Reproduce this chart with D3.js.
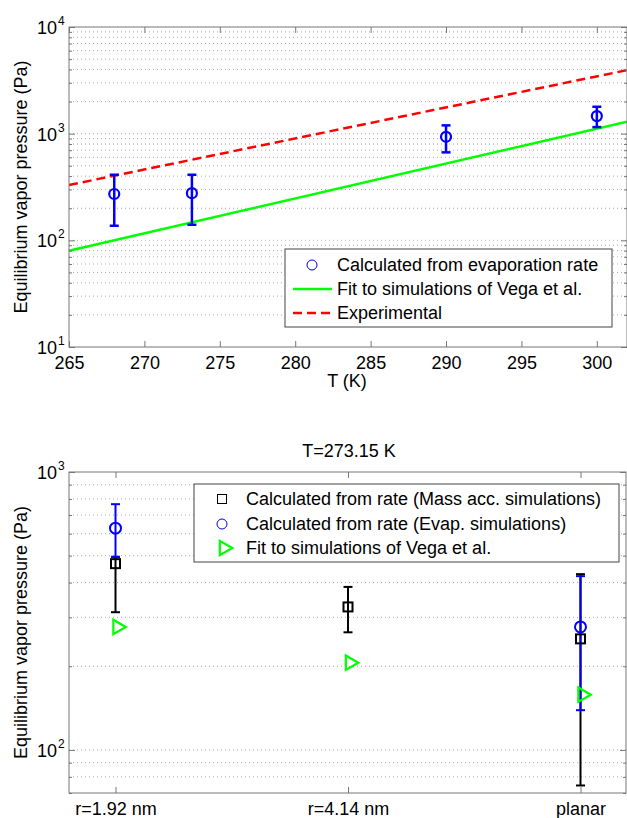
<!DOCTYPE html>
<html>
<head>
<meta charset="utf-8">
<title>Equilibrium vapor pressure</title>
<script src="https://cdn.jsdelivr.net/npm/d3@7"></script>
<style>
  body { margin: 0; background: #fff; }
  text { font-family: "Liberation Sans", Arial, sans-serif; fill: #000; }
</style>
</head>
<body>
<div id="chart"></div>
<script>
// ---- top panel data ----
var evapT = [268, 273.15, 290, 300]
var evapP = [272, 277, 935, 1462]
var evapLo = [137, 140, 668, 1153]
var evapHi = [412, 412, 1196, 1787]
var fitT = [265, 302]
var fitP = [80, 1295]
var expT = [265, 302]
var expP = [330, 3940]
var topXTicks = [265, 270, 275, 280, 285, 290, 295, 300]
var topYTicks = [10, 100, 1000, 10000]

// ---- bottom panel data ----
var cats = ["r=1.92 nm", "r=4.14 nm", "planar"]
var massP = [468, 327, 251]
var massLo = [313, 265, 74.5]
var massHi = [495, 386, 429]
var evP = [628, null, 277]
var evLo = [495, null, 139]
var evHi = [766, null, 422]
var vegaP = [277, 206, 158]
var botYTicks = [100, 1000]

var W = 627, H = 818
var svg = d3.select("#chart").append("svg").attr("width", W).attr("height", H)

var axisCol = "#777"

function minorTicks(dom) {
  var out = []
  var lo = Math.floor(Math.log10(dom[0])), hi = Math.ceil(Math.log10(dom[1]))
  for (var e = lo; e < hi; e++) {
    for (var m = 1; m < 10; m++) {
      var v = m * Math.pow(10, e)
      if (v >= dom[0] - 1e-9 && v <= dom[1] + 1e-9) out.push(v)
    }
  }
  return out
}

function frame(g, x, y, xTicks, yMajor, left, right, top, bottom) {
  // dotted horizontal grid
  g.selectAll(".grid").data(minorTicks(y.domain()).filter(v => y(v) > top + 1 && y(v) < bottom - 1))
    .enter().append("line")
    .attr("x1", left).attr("x2", right)
    .attr("y1", d => y(d)).attr("y2", d => y(d))
    .attr("stroke", "#aaa").attr("stroke-width", 1).attr("stroke-dasharray", "1,3")
}

function axes(g, x, y, xTicks, xFmt, yMajor, left, right, top, bottom) {
  var yMinor = minorTicks(y.domain()).filter(v => yMajor.indexOf(v) < 0)
  g.append("g").attr("transform", "translate(0," + bottom + ")")
    .call(d3.axisBottom(x).tickValues(xTicks).tickSizeInner(-6).tickSizeOuter(0).tickPadding(9).tickFormat(xFmt))
  g.append("g").attr("transform", "translate(0," + top + ")")
    .call(d3.axisTop(x).tickValues(xTicks).tickSizeInner(-6).tickSizeOuter(0).tickFormat(""))
  g.append("g").attr("transform", "translate(" + left + ",0)")
    .call(d3.axisLeft(y).tickValues(yMajor).tickSizeInner(-6).tickSizeOuter(0).tickFormat(""))
  g.append("g").attr("transform", "translate(" + right + ",0)")
    .call(d3.axisRight(y).tickValues(yMajor).tickSizeInner(-6).tickSizeOuter(0).tickFormat(""))
  g.append("g").attr("transform", "translate(" + left + ",0)")
    .call(d3.axisLeft(y).tickValues(yMinor).tickSizeInner(-3).tickSizeOuter(0).tickFormat(""))
  g.append("g").attr("transform", "translate(" + right + ",0)")
    .call(d3.axisRight(y).tickValues(yMinor).tickSizeInner(-3).tickSizeOuter(0).tickFormat(""))
  g.selectAll(".domain").remove()
  g.selectAll(".tick line").attr("stroke", axisCol)
  g.selectAll(".tick text").attr("font-size", 18).attr("fill", "#000")
    .attr("font-family", '"Liberation Sans", Arial, sans-serif')
  g.append("rect").attr("x", left).attr("y", top).attr("width", right - left).attr("height", bottom - top)
    .attr("fill", "none").attr("stroke", axisCol).attr("stroke-width", 1)
  // power-of-ten labels
  yMajor.forEach(function (v) {
    var t = g.append("text").attr("y", y(v) + 7).attr("font-size", 18)
    t.append("tspan").attr("x", 57).attr("text-anchor", "end").text("10")
    g.append("text").attr("x", 58).attr("y", y(v) - 2).attr("font-size", 12)
      .text(Math.round(Math.log10(v)))
  })
}

function errBars(g, xs, ys, lo, hi, x, y, col, w, cap) {
  xs.forEach(function (xv, i) {
    if (ys[i] == null) return
    var cx = x(xv)
    g.append("line").attr("x1", cx).attr("x2", cx).attr("y1", y(lo[i])).attr("y2", y(hi[i]))
      .attr("stroke", col).attr("stroke-width", w)
    ;[lo[i], hi[i]].forEach(function (v) {
      g.append("line").attr("x1", cx - cap).attr("x2", cx + cap).attr("y1", y(v)).attr("y2", y(v))
        .attr("stroke", col).attr("stroke-width", w)
    })
  })
}

// ================= TOP PANEL =================
var tL = 69, tR = 627, tT = 27, tB = 347
var x1 = d3.scaleLinear().domain([265, 302]).range([tL, tR])
var y1 = d3.scaleLog().domain([10, 10000]).range([tB, tT])
var g1 = svg.append("g")
frame(g1, x1, y1, topXTicks, topYTicks, tL, tR, tT, tB)

var line1 = d3.line().x(d => x1(d[0])).y(d => y1(d[1]))
g1.append("path").datum(d3.zip(fitT, fitP)).attr("d", line1)
  .attr("fill", "none").attr("stroke", "#00ff00").attr("stroke-width", 2.5)
g1.append("path").datum(d3.zip(expT, expP)).attr("d", line1)
  .attr("fill", "none").attr("stroke", "#ff0000").attr("stroke-width", 2.5).attr("stroke-dasharray", "9,5")

errBars(g1, evapT, evapP, evapLo, evapHi, x1, y1, "#0000ff", 2.5, 4.5)
g1.selectAll(".pt").data(evapT).enter().append("circle")
  .attr("cx", d => x1(d)).attr("cy", (d, i) => y1(evapP[i])).attr("r", 5)
  .attr("fill", "none").attr("stroke", "#0000ff").attr("stroke-width", 2.2)

axes(g1, x1, y1, topXTicks, d3.format("d"), topYTicks, tL, tR, tT, tB)

g1.append("text").attr("x", 347).attr("y", 387).attr("text-anchor", "middle").attr("font-size", 18).text("T (K)")
g1.append("text").attr("transform", "translate(27," + (tT + tB) / 2 + ") rotate(-90)")
  .attr("text-anchor", "middle").attr("font-size", 18).text("Equilibrium vapor pressure (Pa)")

// top legend
var lg1 = g1.append("g")
lg1.append("rect").attr("x", 285).attr("y", 249).attr("width", 327).attr("height", 78)
  .attr("fill", "#fff").attr("stroke", "#444").attr("stroke-width", 1)
lg1.append("circle").attr("cx", 312).attr("cy", 265).attr("r", 5).attr("fill", "none").attr("stroke", "#0000ff").attr("stroke-width", 1)
lg1.append("line").attr("x1", 293).attr("x2", 332).attr("y1", 289).attr("y2", 289).attr("stroke", "#00ff00").attr("stroke-width", 2.5)
lg1.append("line").attr("x1", 293).attr("x2", 332).attr("y1", 313).attr("y2", 313).attr("stroke", "#ff0000").attr("stroke-width", 2.5).attr("stroke-dasharray", "9,5")
;["Calculated from evaporation rate", "Fit to simulations of Vega et al.", "Experimental"].forEach(function (s, i) {
  lg1.append("text").attr("x", 337).attr("y", 271 + i * 24).attr("font-size", 18).text(s)
})

// ================= BOTTOM PANEL =================
var bL = 69, bR = 626, bT = 472, bB = 793
var catIdx = [1, 2, 3]
var x2 = d3.scaleLinear().domain([0.8, 3.2]).range([bL, bR + 1])
var y2 = d3.scaleLog().domain([70, 1000]).range([bB, bT])
var g2 = svg.append("g")
frame(g2, x2, y2, catIdx, botYTicks, bL, bR, bT, bB)

errBars(g2, catIdx, massP, massLo, massHi, x2, y2, "#000", 2, 4.5)
errBars(g2, catIdx, evP, evLo, evHi, x2, y2, "#0000ff", 2, 4.5)

g2.selectAll(".sq").data(catIdx).enter().append("rect")
  .attr("x", d => x2(d) - 4.5).attr("y", (d, i) => y2(massP[i]) - 4.5).attr("width", 9).attr("height", 9)
  .attr("fill", "none").attr("stroke", "#000").attr("stroke-width", 2)
g2.selectAll(".ci").data(catIdx.filter((d, i) => evP[i] != null)).enter().append("circle")
  .attr("cx", d => x2(d)).attr("cy", d => y2(evP[d - 1])).attr("r", 5.5)
  .attr("fill", "none").attr("stroke", "#0000ff").attr("stroke-width", 2)
var tri = d3.symbol().type(d3.symbolTriangle).size(90)
g2.selectAll(".tr").data(catIdx).enter().append("path")
  .attr("d", tri)
  .attr("transform", (d, i) => "translate(" + (x2(d) + 2) + "," + y2(vegaP[i]) + ") rotate(90)")
  .attr("fill", "none").attr("stroke", "#00ff00").attr("stroke-width", 2.2)

axes(g2, x2, y2, catIdx, d => cats[d - 1], botYTicks, bL, bR, bT, bB)

g2.append("text").attr("x", 349).attr("y", 457).attr("text-anchor", "middle").attr("font-size", 18).text("T=273.15 K")
g2.append("text").attr("transform", "translate(27," + (bT + bB) / 2 + ") rotate(-90)")
  .attr("text-anchor", "middle").attr("font-size", 18).text("Equilibrium vapor pressure (Pa)")

// bottom legend
var lg2 = g2.append("g")
lg2.append("rect").attr("x", 194).attr("y", 484).attr("width", 425).attr("height", 78)
  .attr("fill", "#fff").attr("stroke", "#444").attr("stroke-width", 1)
lg2.append("rect").attr("x", 217.5).attr("y", 494.5).attr("width", 9).attr("height", 9).attr("fill", "none").attr("stroke", "#000").attr("stroke-width", 1)
lg2.append("circle").attr("cx", 222).attr("cy", 524).attr("r", 5).attr("fill", "none").attr("stroke", "#0000ff").attr("stroke-width", 1)
lg2.append("path").attr("d", tri).attr("transform", "translate(224,548) rotate(90)")
  .attr("fill", "none").attr("stroke", "#00ff00").attr("stroke-width", 2.2)
;["Calculated from rate (Mass acc. simulations)", "Calculated from rate (Evap. simulations)", "Fit to simulations of Vega et al."].forEach(function (s, i) {
  lg2.append("text").attr("x", 246).attr("y", 505 + i * 24.5).attr("font-size", 18).text(s)
})
</script>
</body>
</html>
